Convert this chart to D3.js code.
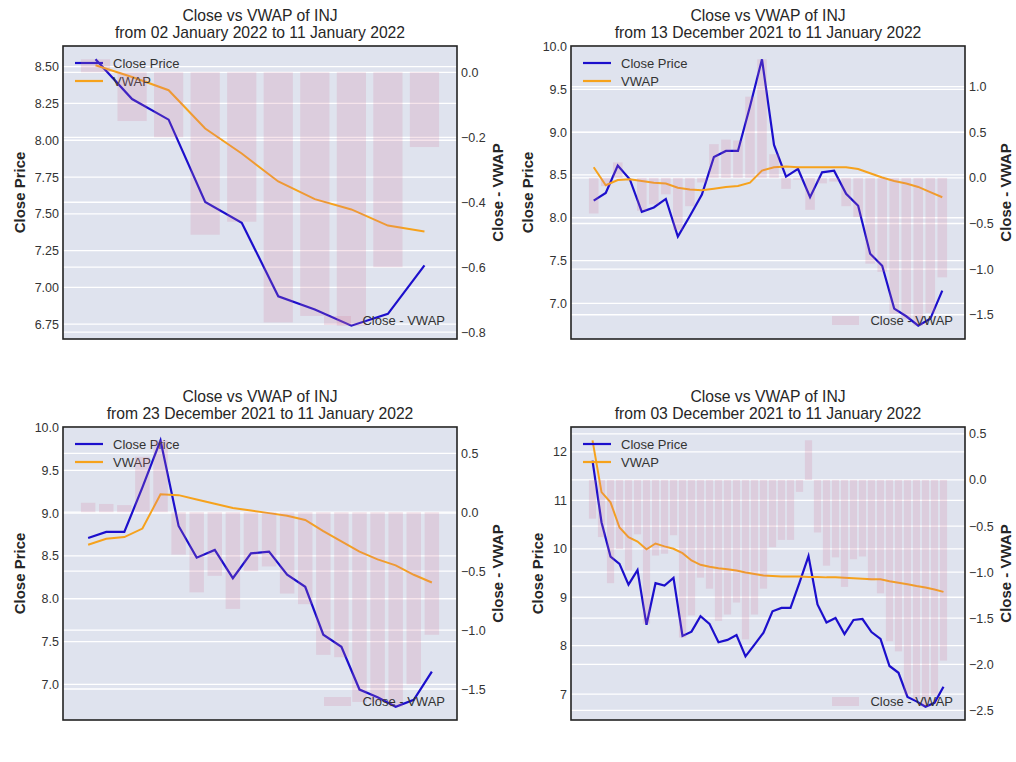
<!DOCTYPE html>
<html>
<head>
<meta charset="utf-8">
<script src="https://cdn.jsdelivr.net/npm/d3@7"></script>
<style>
  body { margin: 0; background: #fff; }
  svg { font-family: "Liberation Sans", Arial, sans-serif; }
</style>
</head>
<body>
<div id="chart"></div>
<script>
// daily close of INJ, 03 Dec 2021 .. 11 Jan 2022
const closePrice = [11.82, 10.55, 9.84, 9.69, 9.26, 9.56, 8.43, 9.29, 9.24, 9.40,
    8.20, 8.29, 8.61, 8.45, 8.07, 8.12, 8.22, 7.78, 8.02, 8.27,
    8.71, 8.78, 8.78, 9.30, 9.85, 8.85, 8.48, 8.57, 8.24, 8.53,
    8.55, 8.28, 8.14, 7.58, 7.44, 6.94, 6.85, 6.74, 6.82, 7.15];

// vwap and close - vwap for each window (they start at a different day)
const vwapFrom02Jan = [8.51, 8.43, 8.34, 8.08, 7.91, 7.72, 7.60, 7.53, 7.42, 7.38];
const diffFrom02Jan = [0.04, -0.15, -0.20, -0.50, -0.46, -0.77, -0.75, -0.78, -0.60, -0.23];

const vwapFrom13Dec = [8.59, 8.38, 8.44, 8.45, 8.43, 8.41, 8.40, 8.35, 8.33, 8.32,
    8.34, 8.36, 8.37, 8.41, 8.55, 8.59, 8.60, 8.59, 8.59, 8.59,
    8.59, 8.59, 8.57, 8.52, 8.47, 8.43, 8.40, 8.36, 8.30, 8.24];
const diffFrom13Dec = [-0.39, -0.09, 0.17, 0.00, -0.36, -0.29, -0.18, -0.57, -0.31, -0.05,
    0.37, 0.42, 0.41, 0.89, 1.30, 0.26, -0.12, -0.02, -0.35, -0.06,
    -0.04, -0.31, -0.43, -0.94, -1.03, -1.49, -1.55, -1.62, -1.48, -1.09];

const vwapFrom23Dec = [8.63, 8.70, 8.72, 8.82, 9.22, 9.21, 9.16, 9.11, 9.06, 9.03,
    9.00, 8.97, 8.92, 8.79, 8.67, 8.55, 8.46, 8.39, 8.28, 8.19];
const diffFrom23Dec = [0.08, 0.07, 0.06, 0.47, 0.61, -0.36, -0.68, -0.54, -0.82, -0.50,
    -0.46, -0.69, -0.78, -1.21, -1.23, -1.61, -1.61, -1.65, -1.46, -1.04];

const vwapFrom03Dec = [12.24, 11.17, 10.96, 10.44, 10.24, 10.15, 9.99, 10.11, 10.05, 10.00,
    9.91, 9.76, 9.67, 9.63, 9.60, 9.58, 9.55, 9.51, 9.48, 9.45,
    9.44, 9.43, 9.43, 9.43, 9.42, 9.42, 9.41, 9.41, 9.40, 9.39,
    9.38, 9.37, 9.37, 9.33, 9.30, 9.27, 9.23, 9.20, 9.16, 9.11];
const diffFrom03Dec = [-0.42, -0.62, -1.12, -0.75, -0.98, -0.59, -1.56, -0.82, -0.80, -0.60,
    -1.71, -1.47, -1.06, -1.18, -1.53, -1.46, -1.33, -1.73, -1.46, -1.18,
    -0.73, -0.65, -0.65, -0.13, 0.43, -0.57, -0.93, -0.84, -1.16, -0.86,
    -0.83, -1.09, -1.23, -1.75, -1.86, -2.33, -2.38, -2.46, -2.34, -1.96];

const leftTicks02Jan = [6.75, 7.00, 7.25, 7.50, 7.75, 8.00, 8.25, 8.50];
const rightTicks02Jan = [-0.8, -0.6, -0.4, -0.2, 0.0];
const leftTicks13Dec = [7.0, 7.5, 8.0, 8.5, 9.0, 9.5, 10.0];
const rightTicks13Dec = [-1.5, -1.0, -0.5, 0.0, 0.5, 1.0];
const leftTicks23Dec = [7.0, 7.5, 8.0, 8.5, 9.0, 9.5, 10.0];
const rightTicks23Dec = [-1.5, -1.0, -0.5, 0.0, 0.5];
const leftTicks03Dec = [7, 8, 9, 10, 11, 12];
const rightTicks03Dec = [-2.5, -2.0, -1.5, -1.0, -0.5, 0.0, 0.5];

const titleTop = "Close vs VWAP of INJ";
const titleRanges = ["from 02 January 2022 to 11 January 2022",
    "from 13 December 2021 to 11 January 2022",
    "from 23 December 2021 to 11 January 2022",
    "from 03 December 2021 to 11 January 2022"];

const panels = [
    { left: 63, top: 46, start: 30, vwap: vwapFrom02Jan, diff: diffFrom02Jan, title: titleRanges[0],
      leftTicks: leftTicks02Jan, rightTicks: rightTicks02Jan, leftFmt: ".2f" },
    { left: 571, top: 46, start: 10, vwap: vwapFrom13Dec, diff: diffFrom13Dec, title: titleRanges[1],
      leftTicks: leftTicks13Dec, rightTicks: rightTicks13Dec, leftFmt: ".1f" },
    { left: 63, top: 427, start: 20, vwap: vwapFrom23Dec, diff: diffFrom23Dec, title: titleRanges[2],
      leftTicks: leftTicks23Dec, rightTicks: rightTicks23Dec, leftFmt: ".1f" },
    { left: 571, top: 427, start: 0, vwap: vwapFrom03Dec, diff: diffFrom03Dec, title: titleRanges[3],
      leftTicks: leftTicks03Dec, rightTicks: rightTicks03Dec, leftFmt: "d" }
];

const W = 394, H = 293;
const bg = "#dfe3ee";
const blue = "#1c0fcc";
const orange = "#f6a21c";
const barColor = "#d07a9a";

const svg = d3.select("#chart")
    .append("svg")
    .attr("width", 1016)
    .attr("height", 762);

// matplotlib style padding of 5% on each side
function padded(lo, hi) {
    const m = (hi - lo) * 0.05;
    return [lo - m, hi + m];
}

function drawPanel(p) {
    const close = closePrice.slice(p.start);
    const n = close.length;

    const x = d3.scaleLinear()
        .domain(padded(-0.4, n - 0.6))
        .range([0, W]);
    const y = d3.scaleLinear()
        .domain(padded(d3.min(close.concat(p.vwap)), d3.max(close.concat(p.vwap))))
        .range([H, 0]);
    const y2 = d3.scaleLinear()
        .domain(padded(Math.min(0, d3.min(p.diff)), Math.max(0, d3.max(p.diff))))
        .range([H, 0]);

    const g = svg.append("g")
        .attr("transform", `translate(${p.left},${p.top})`);

    g.append("rect")
        .attr("width", W)
        .attr("height", H)
        .attr("fill", bg);

    // white horizontal grid from both axes
    g.selectAll(".gridL")
        .data(p.leftTicks)
        .enter()
        .append("line")
        .attr("x1", 0).attr("x2", W)
        .attr("y1", d => y(d)).attr("y2", d => y(d))
        .attr("stroke", "#fff")
        .attr("stroke-width", 1.3);
    g.selectAll(".gridR")
        .data(p.rightTicks)
        .enter()
        .append("line")
        .attr("x1", 0).attr("x2", W)
        .attr("y1", d => y2(d)).attr("y2", d => y2(d))
        .attr("stroke", "#fff")
        .attr("stroke-width", 1.3);

    const axL = g.append("g")
        .call(d3.axisLeft(y).tickValues(p.leftTicks).tickFormat(d3.format(p.leftFmt)).tickSize(0).tickPadding(4));
    const axR = g.append("g")
        .attr("transform", `translate(${W},0)`)
        .call(d3.axisRight(y2).tickValues(p.rightTicks).tickFormat(d3.format(".1f")).tickSize(0).tickPadding(4));
    [axL, axR].forEach(a => {
        a.select(".domain").remove();
        a.selectAll("text")
            .style("font-size", "12.5px")
            .style("fill", "#333")
            .style("font-family", "Liberation Sans, Arial, sans-serif");
    });

    const wL = axL.node().getBBox().width;
    const wR = axR.node().getBBox().width;

    g.append("text")
        .attr("transform", `translate(${-wL - 15},${H / 2})rotate(-90)`)
        .attr("dy", "0.35em")
        .style("text-anchor", "middle")
        .style("font-size", "15px")
        .style("font-weight", "bold")
        .style("fill", "#262626")
        .text("Close Price");
    g.append("text")
        .attr("transform", `translate(${W + wR + 12},${H / 2})rotate(-90)`)
        .attr("dy", "0.35em")
        .style("text-anchor", "middle")
        .style("font-size", "15px")
        .style("font-weight", "bold")
        .style("fill", "#262626")
        .text("Close - VWAP");

    g.append("text")
        .attr("x", W / 2).attr("y", -25)
        .style("text-anchor", "middle")
        .style("font-size", "15.7px")
        .style("fill", "#262626")
        .text(titleTop);
    g.append("text")
        .attr("x", W / 2).attr("y", -8)
        .style("text-anchor", "middle")
        .style("font-size", "15.7px")
        .style("fill", "#262626")
        .text(p.title);

    const line = d3.line().x((d, i) => x(i)).y(d => y(d));

    g.append("path")
        .datum(close)
        .attr("d", line)
        .attr("fill", "none")
        .attr("stroke", blue)
        .attr("stroke-width", 2.2);
    g.append("path")
        .datum(p.vwap)
        .attr("d", line)
        .attr("fill", "none")
        .attr("stroke", orange)
        .attr("stroke-width", 2);

    // legend of the price axis
    const leg = [["Close Price", blue], ["VWAP", orange]];
    leg.forEach((l, i) => {
        g.append("line")
            .attr("x1", 12).attr("x2", 40)
            .attr("y1", 17 + i * 18).attr("y2", 17 + i * 18)
            .attr("stroke", l[1])
            .attr("stroke-width", 2.2);
        g.append("text")
            .attr("x", 50).attr("y", 17 + i * 18)
            .attr("dy", "0.35em")
            .style("font-size", "13px")
            .style("fill", "#333")
            .text(l[0]);
    });

    // bars sit on the twin axis, drawn above the lines
    g.selectAll(".bar")
        .data(p.diff)
        .enter()
        .append("rect")
        .attr("class", "bar")
        .attr("x", (d, i) => x(i - 0.4))
        .attr("width", x(0.8) - x(0))
        .attr("y", d => y2(Math.max(0, d)))
        .attr("height", d => Math.abs(y2(d) - y2(0)))
        .attr("fill", barColor)
        .attr("opacity", 0.2);

    g.append("rect")
        .attr("x", W - 133).attr("y", H - 23)
        .attr("width", 27).attr("height", 9)
        .attr("fill", barColor)
        .attr("opacity", 0.2);
    g.append("text")
        .attr("x", W - 12).attr("y", H - 19)
        .attr("dy", "0.35em")
        .style("text-anchor", "end")
        .style("font-size", "13px")
        .style("fill", "#333")
        .text("Close - VWAP");

    g.append("rect")
        .attr("width", W)
        .attr("height", H)
        .attr("fill", "none")
        .attr("stroke", "#222")
        .attr("stroke-width", 1.6);
}

panels.forEach(drawPanel);
</script>
</body>
</html>
